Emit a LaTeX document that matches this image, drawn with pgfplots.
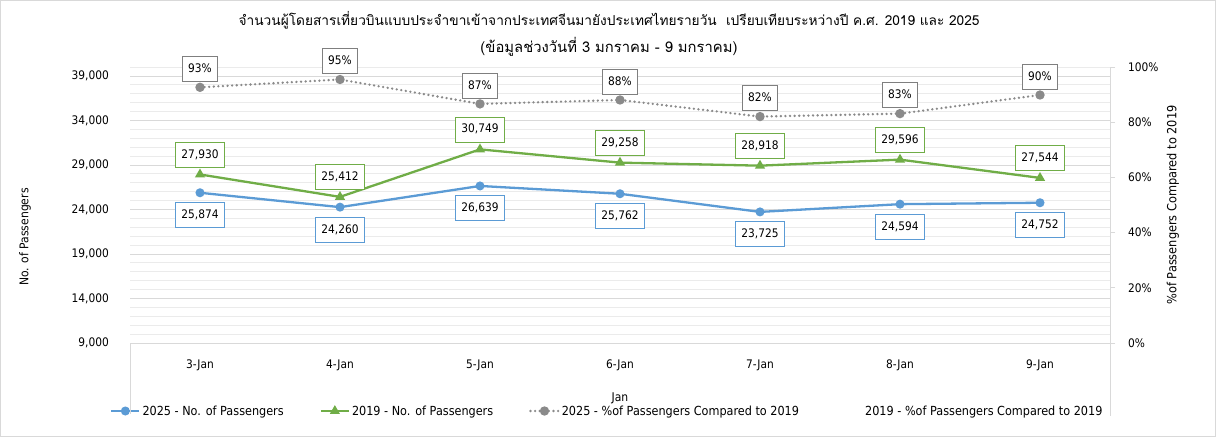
\documentclass[border=0pt]{standalone}
\usepackage{pgfplots}
\usepackage{pgfplotstable}
\pgfplotsset{compat=1.18}
\usepackage{fontspec}
\setmainfont{DejaVu Sans}[FakeStretch=0.9]
\newfontfamily\thaifont[Script=Thai]{Loma}

\definecolor{c25}{HTML}{5B9BD5}
\definecolor{c19}{HTML}{70AD47}
\definecolor{cpct}{HTML}{8A8A8A}
\definecolor{cbox}{HTML}{7F7F7F}
\definecolor{gridmaj}{HTML}{D9D9D9}
\definecolor{gridmin}{HTML}{EBEBEB}

% daily passengers (3-9 Jan) and 2025 as share of 2019
\pgfplotstableread{
x pax2025 pax2019 pct2025
0 25874 27930 92.64
1 24260 25412 95.47
2 26639 30749 86.63
3 25762 29258 88.05
4 23725 28918 82.04
5 24594 29596 83.10
6 24752 27544 89.86
}\datatable

\tikzset{
  labelbox/.style={fill=white, text=black, line width=0.8pt,
    inner xsep=6pt, inner ysep=7pt, text height=9pt, text depth=2pt,
    font=\fontsize{11.8pt}{13pt}\selectfont},
}
\pgfplotsset{
  base axis/.style={
    at={(130pt,94pt)}, anchor=south west, scale only axis,
    width=980pt, height=276pt, xmin=-0.5, xmax=6.5, clip=false,
    /pgf/number format/assume math mode=true,
    tick label style={font=\fontsize{11.8pt}{13pt}\selectfont},
  },
}

\begin{document}
\begin{tikzpicture}[font=\fontsize{12pt}{14pt}\selectfont]
\path[use as bounding box] (0pt,0pt) rectangle (1216pt,437pt);
\draw[gridmaj, line width=0.8pt] (0.5pt,0.5pt) rectangle (1215.5pt,436.5pt);

\begin{axis}[base axis,
  ymin=9000, ymax=40000,
  xtick={0,...,6},
  xticklabels={3-Jan,4-Jan,5-Jan,6-Jan,7-Jan,8-Jan,9-Jan},
  ytick={9000,14000,19000,24000,29000,34000,39000},
  minor ytick={10000,11000,12000,13000,15000,16000,17000,18000,20000,21000,22000,23000,25000,26000,27000,28000,30000,31000,32000,33000,35000,36000,37000,38000,40000},
  scaled y ticks=false,
  yticklabel={\pgfmathprintnumber[fixed,1000 sep={,}]{\tick}},
  ymajorgrids, yminorgrids,
  major grid style={gridmaj, line width=0.8pt},
  minor grid style={gridmin, line width=0.8pt},
  axis x line*=bottom, axis y line*=left,
  x axis line style={gridmaj, line width=0.8pt},
  y axis line style={draw=none},
  major tick length=0pt, minor tick length=0pt,
  yticklabel style={inner sep=0pt, anchor=east, xshift=-21pt},
  xticklabel style={inner sep=0pt, anchor=center, yshift=-22pt},
]
\addplot[c25, line width=2.3pt, mark=*, mark size=3.3pt, mark options={solid},
  nodes near coords={\pgfmathprintnumber[fixed,1000 sep={,}]{\pgfplotspointmeta}},
  every node near coord/.append style={labelbox, draw=c25, anchor=north, yshift=-9.5pt}]
  table[x=x, y=pax2025] {\datatable};
\addplot[c19, line width=2.3pt, mark=triangle*, mark size=3.6pt, mark options={solid},
  nodes near coords={\pgfmathprintnumber[fixed,1000 sep={,}]{\pgfplotspointmeta}},
  every node near coord/.append style={labelbox, draw=c19, anchor=south, yshift=7pt}]
  table[x=x, y=pax2019] {\datatable};
\end{axis}

\begin{axis}[base axis,
  ymin=0, ymax=100,
  axis x line=none, axis y line*=right,
  ytick={0,20,...,100},
  yticklabel={\pgfmathprintnumber{\tick}\%},
  y axis line style={gridmaj, line width=0.8pt},
  ytick style={gridmaj, line width=0.8pt},
  tick align=outside, major tick length=5pt,
  yticklabel style={inner sep=0pt, anchor=west, xshift=13pt},
  legend columns=4,
  legend cell align=left,
  legend style={at={(-0.0204,-0.2464)}, anchor=west, draw=none, fill=none,
    inner sep=0pt, font=\fontsize{12.5pt}{14pt}\selectfont,
    /tikz/every even column/.append style={column sep=34pt}},
  legend image code/.code={\draw[mark repeat=2, mark phase=2, #1]
    plot coordinates {(0pt,0pt) (14pt,0pt) (28pt,0pt)};},
]
\addlegendimage{c25, line width=2.3pt, mark=*, mark size=3.3pt, mark options={solid}}
\addlegendentry{2025 - No. of Passengers}
\addlegendimage{c19, line width=2.3pt, mark=triangle*, mark size=3.6pt, mark options={solid}}
\addlegendentry{2019 - No. of Passengers}
\addplot[cpct, line width=2.6pt, line cap=round, dash pattern=on 0pt off 4.6pt,
  mark=*, mark size=3.3pt, mark options={solid},
  nodes near coords={\pgfmathprintnumber[fixed,precision=0]{\pgfplotspointmeta}\%},
  every node near coord/.append style={labelbox, draw=cbox, anchor=south, yshift=5.5pt}]
  table[x=x, y=pct2025] {\datatable};
\addlegendentry{2025 - \%of Passengers Compared to 2019}
\addlegendimage{white, line width=0.1pt, mark=none}
\addlegendentry{2019 - \%of Passengers Compared to 2019}
\end{axis}

% category group frame and axis titles
\draw[gridmaj, line width=0.8pt] (130pt,94pt) -- (130pt,23pt);
\draw[gridmaj, line width=0.8pt] (1110pt,94pt) -- (1110pt,21pt);
\node at (620pt,39pt) {Jan};
\node[rotate=90] at (25pt,200pt) {No. of Passengers};
\node[rotate=90, font=\fontsize{12.6pt}{14pt}\selectfont] at (1173pt,232pt) {\%of Passengers Compared to 2019};

\node[font=\thaifont\fontsize{13.7pt}{17pt}\selectfont] at (609pt,417pt)
  {จำนวนผู้โดยสารเที่ยวบินแบบประจำขาเข้าจากประเทศจีนมายังประเทศไทยรายวัน\ \ เปรียบเทียบระหว่างปี ค.ศ. 2019 และ 2025};
\node[font=\thaifont\fontsize{14.8pt}{17pt}\selectfont] at (609pt,390pt)
  {(ข้อมูลช่วงวันที่ 3 มกราคม - 9 มกราคม)};
\end{tikzpicture}
\end{document}
